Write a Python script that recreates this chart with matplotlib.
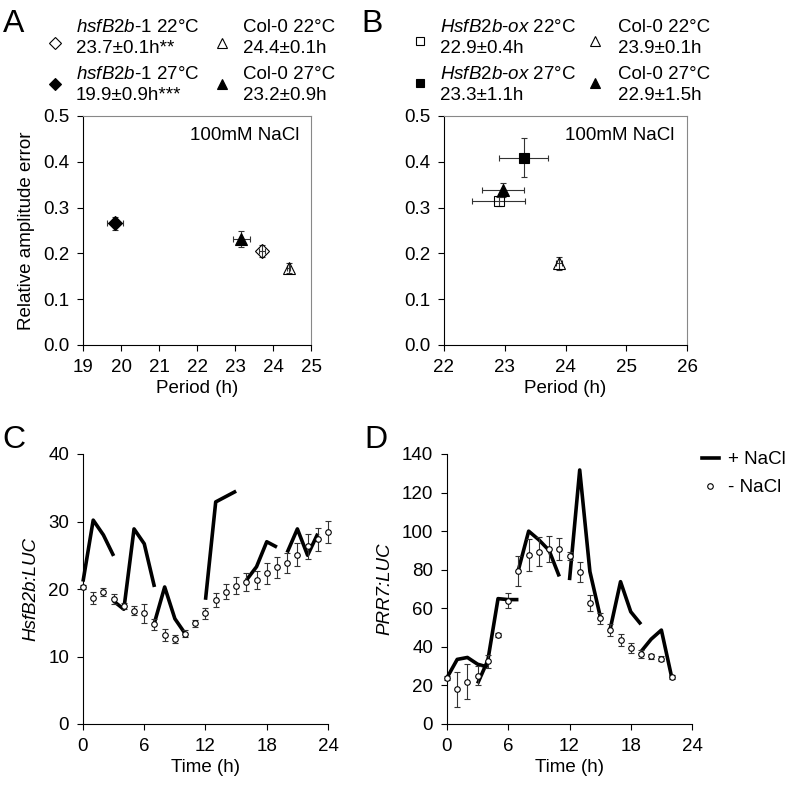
import matplotlib.pyplot as plt
from matplotlib.lines import Line2D

plt.rcParams['font.family'] = ['Liberation Sans', 'DejaVu Sans']
plt.rcParams['mathtext.fontset'] = 'custom'
plt.rcParams['mathtext.it'] = 'Liberation Sans:italic'
plt.rcParams['mathtext.rm'] = 'Liberation Sans'
plt.rcParams['font.size'] = 13.5

# === Panel A: period vs amplitude error (hsfB2b-1 / Col-0) ===
a_period = [23.71, 19.83, 24.41, 23.17]
a_period_err = [0.07, 0.21, 0.03, 0.23]
a_rae = [0.206, 0.266, 0.168, 0.231]
a_rae_err = [0.013, 0.014, 0.010, 0.018]
a_names = [r"$\mathit{hsfB2b}$-$\mathit{1}$ 22°C", r"$\mathit{hsfB2b}$-$\mathit{1}$ 27°C",
           "Col-0 22°C", "Col-0 27°C"]
a_stats = ["23.7±0.1h**", "19.9±0.9h***", "24.4±0.1h", "23.2±0.9h"]

# === Panel B: period vs amplitude error (HsfB2b-ox / Col-0) ===
b_period = [22.90, 23.31, 23.90, 22.97]
b_period_err = [0.44, 0.41, 0.05, 0.35]
b_rae = [0.314, 0.409, 0.178, 0.338]
b_rae_err = [0.010, 0.043, 0.014, 0.015]
b_names = [r"$\mathit{HsfB2b}$-$\mathit{ox}$ 22°C", r"$\mathit{HsfB2b}$-$\mathit{ox}$ 27°C",
           "Col-0 22°C", "Col-0 27°C"]
b_stats = ["22.9±0.4h", "23.3±1.1h", "23.9±0.1h", "22.9±1.5h"]

# marker style per entry: open/filled diamond-or-square, open/filled triangle
a_markers = ['D', 'D', '^', '^']
b_markers = ['s', 's', '^', '^']
fills = ['white', 'black', 'white', 'black']

# === Panel C: HsfB2b:LUC ===
c_time = list(range(25))
c_minus = [20.25, 18.7, 19.5, 18.5, 17.5, 16.8, 16.4, 14.8, 13.2, 12.6, 13.4, 14.9, 16.4,
           18.4, 19.6, 20.5, 21.0, 21.3, 22.3, 23.2, 23.9, 25.1, 26.3, 27.4, 28.4]
c_minus_err = [0.3, 0.9, 0.6, 0.7, 0.4, 0.65, 1.4, 0.8, 0.9, 0.6, 0.55, 0.55, 0.8,
               1.0, 1.1, 1.3, 1.3, 1.3, 1.5, 1.55, 1.5, 1.65, 1.8, 1.7, 1.65]
c_plus_time = [[0, 1, 2, 3], [3, 4, 5, 6, 7], [7, 8, 9, 10], [12, 13, 14, 15],
               [16, 17, 18, 19], [20, 21, 22, 23]]
c_plus = [[21.1, 30.2, 28.0, 24.9], [18.2, 17.0, 28.9, 26.7, 20.3], [15.0, 20.3, 15.6, 13.4],
          [18.4, 32.9, 33.7, 34.5], [21.3, 23.3, 27.0, 26.2], [25.4, 28.9, 25.0, 28.2]]

# === Panel D: PRR7:LUC ===
d_time = list(range(23))
d_minus = [24, 18, 22, 25, 32.5, 46, 64, 79.3, 87.6, 89.3, 90.9, 90.9, 87.1, 78.8,
           62.9, 54.8, 48.6, 43.5, 39.6, 36.4, 35.1, 33.9, 24.5]
d_minus_err = [1, 9, 9, 5, 3.5, 1, 4, 7.8, 8.5, 7.6, 6.8, 5.7, 1.9, 5, 4.1, 2.8,
               3.2, 3, 2.6, 2, 1.2, 1.2, 1]
d_plus_time = [[0, 1, 2, 3, 4], [3, 4, 5, 6, 7], [7, 8, 9, 10, 11], [12, 13, 14, 15],
               [16, 17, 18, 19], [19, 20, 21, 22]]
d_plus = [[24, 33.5, 34.5, 31, 29.5], [21, 33, 65, 64.5, 64.5], [80, 100, 95.5, 90, 76.5],
          [74.6, 131.7, 79, 56], [49.6, 73.8, 58.2, 51.7], [37.5, 44, 48.7, 24.5]]

W, H = 796, 792
fig = plt.figure(figsize=(W / 100, H / 100), dpi=100)


def px_axes(x0, y0, x1, y1):
    return fig.add_axes([x0 / W, 1 - y1 / H, (x1 - x0) / W, (y1 - y0) / H])


def ftext(x, y, s, **kw):
    fig.text(x / W, 1 - y / H, s, **kw)


def scatter_panel(ax, period, perr, rae, rerr, markers, sizes):
    for i in range(4):
        ax.errorbar(period[i], rae[i], xerr=perr[i], yerr=rerr[i], fmt=markers[i],
                    ms=sizes[i], mfc=fills[i] if fills[i] == 'black' else 'none',
                    mec='black', mew=0.8, ecolor='#333333', elinewidth=0.8,
                    capsize=2, capthick=0.8)
    ax.set_ylim(0, 0.5)
    ax.set_yticks([0, 0.1, 0.2, 0.3, 0.4, 0.5])
    ax.set_yticklabels([f"{v:.1f}" for v in [0, 0.1, 0.2, 0.3, 0.4, 0.5]])
    ax.spines['top'].set_color('#888888')
    ax.spines['right'].set_color('#888888')
    ax.tick_params(direction='out', length=4, width=0.8, pad=6, top=False, right=False)
    ax.text(0.95, 0.95, "100mM NaCl", transform=ax.transAxes, ha='right', va='top')
    ax.set_xlabel("Period (h)", labelpad=3)


def legend_block(x_marker, x_text, rows, names, stats, markers, sizes):
    for i in range(4):
        col, row = divmod(i, 2)
        y1, y2, ym = rows[row]
        fig.add_artist(Line2D([x_marker[col] / W], [1 - ym / H], transform=fig.transFigure,
                              marker=markers[i], ms=sizes[i] * 0.85, mec='black', mew=0.8,
                              mfc=fills[i] if fills[i] == 'black' else 'white', ls='none'))
        ftext(x_text[col], y1, names[i], va='baseline', ha='left')
        ftext(x_text[col], y2, stats[i], va='baseline', ha='left')


# --- A ---
axA = px_axes(83, 116, 311, 345)
scatter_panel(axA, a_period, a_period_err, a_rae, a_rae_err, a_markers, [7, 7, 8.5, 8.5])
axA.set_xlim(19, 25)
axA.set_xticks(range(19, 26))
axA.set_ylabel("Relative amplitude error", labelpad=6)
legend_block([55, 222], [76, 243], [(31.7, 53.3, 43), (79.3, 99.5, 84)],
             a_names, a_stats, a_markers, [7, 7, 8.5, 8.5])

# --- B ---
axB = px_axes(444, 116, 687, 345)
scatter_panel(axB, b_period, b_period_err, b_rae, b_rae_err, b_markers, [7, 7, 8.5, 8.5])
axB.set_xlim(22, 26)
axB.set_xticks(range(22, 27))
legend_block([420, 595], [440, 618], [(31.7, 53.3, 41), (79.3, 99.5, 83)],
             b_names, b_stats, b_markers, [7, 7, 8.5, 8.5])


# --- C and D ---
def time_panel(ax, t, minus, minus_err, plus_t, plus, ymax, ystep):
    for ts, vs in zip(plus_t, plus):
        ax.plot(ts, vs, color='black', lw=2.6, zorder=1, solid_capstyle='butt', clip_on=False)
    eb = ax.errorbar(t, minus, yerr=minus_err, fmt='o', ms=4, mfc='white', mec='black',
                     mew=0.8, ecolor='#333333', elinewidth=0.8, capsize=2, capthick=0.8,
                     zorder=3)
    for artist in eb.get_children():
        artist.set_clip_on(False)
    ax.set_xlim(0, 24)
    ax.set_xticks(range(0, 25, 6))
    ax.set_ylim(0, ymax)
    ax.set_yticks(range(0, ymax + 1, ystep))
    ax.spines['top'].set_visible(False)
    ax.spines['right'].set_visible(False)
    ax.tick_params(direction='out', length=4, width=0.8, pad=6)
    ax.set_xlabel("Time (h)", labelpad=3)


axC = px_axes(83, 454, 328, 724)
time_panel(axC, c_time, c_minus, c_minus_err, c_plus_time, c_plus, 40, 10)
axC.set_ylabel("HsfB2b:LUC", style='italic', labelpad=6)

axD = px_axes(447, 454, 692, 724)
time_panel(axD, d_time, d_minus, d_minus_err, d_plus_time, d_plus, 140, 20)
axD.set_ylabel("PRR7:LUC", style='italic', labelpad=6)

handles = [Line2D([], [], color='black', lw=2.6),
           Line2D([], [], marker='o', ms=4, mfc='white', mec='black', mew=0.8, ls='none')]
fig.legend(handles, ["+ NaCl", "- NaCl"], loc='upper left',
           bbox_to_anchor=(702 / W, 1 - 451 / H), frameon=False, borderpad=0,
           borderaxespad=0, handlelength=0.9, handletextpad=0.5, labelspacing=0.6)

# panel letters
for letter, x, y in [("A", 14, 24), ("B", 372, 24), ("C", 14, 440), ("D", 376, 440)]:
    ftext(x, y, letter, fontsize=23, ha='center', va='center')

plt.savefig("out.png", dpi=100)
